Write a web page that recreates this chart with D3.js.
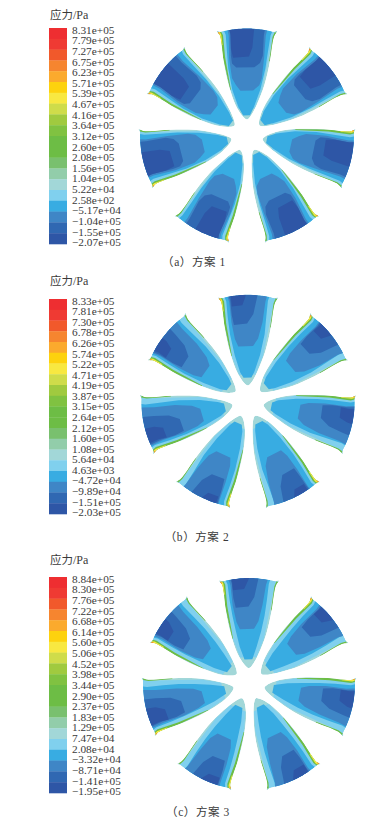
<!DOCTYPE html>
<html>
<head>
<meta charset="utf-8">
<script src="https://cdn.jsdelivr.net/npm/d3@7"></script>
<style>
  html, body { margin: 0; background: #fff; }
  svg { display: block; }
  text { font-family: 'Liberation Serif', 'Noto Sans CJK SC', serif; fill: #3a3a3a; }
</style>
</head>
<body>
<svg></svg>
<script>
let width = 382;
let height = 824;

// legend
let bandColors = ['#ee2e31', '#ef3a33', '#f1592b', '#f6852f', '#fbaa2d', '#fdd20e', '#f8e841', '#cfdc4a', '#a0ca3f',
    '#80c241', '#6dbd45', '#6dbd45', '#79c06e', '#92cdaa', '#a2d7d8', '#80d0ee', '#38ace2', '#3f86c6', '#3068b2', '#2e56a6'];
let labelsA = ['8.31e+05', '7.79e+05', '7.27e+05', '6.75e+05', '6.23e+05', '5.71e+05', '5.39e+05', '4.67e+05', '4.16e+05', '3.64e+05', '3.12e+05',
    '2.60e+05', '2.08e+05', '1.56e+05', '1.04e+05', '5.22e+04', '2.58e+02', '−5.17e+04', '−1.04e+05', '−1.55e+05', '−2.07e+05'];
let labelsB = ['8.33e+05', '7.81e+05', '7.30e+05', '6.78e+05', '6.26e+05', '5.74e+05', '5.22e+05', '4.71e+05', '4.19e+05', '3.87e+05', '3.15e+05',
    '2.64e+05', '2.12e+05', '1.60e+05', '1.08e+05', '5.64e+04', '4.63e+03', '−4.72e+04', '−9.89e+04', '−1.51e+05', '−2.03e+05'];
let labelsC = ['8.84e+05', '8.30e+05', '7.76e+05', '7.22e+05', '6.68e+05', '6.14e+05', '5.60e+05', '5.06e+05', '4.52e+05', '3.98e+05', '3.44e+05',
    '2.90e+05', '2.37e+05', '1.83e+05', '1.29e+05', '7.47e+04', '2.08e+04', '−3.32e+04', '−8.71e+04', '−1.41e+05', '−1.95e+05'];

// blade outline, polar: radius fraction and angle in degrees from the blade axis
let edgeRadius = [0.15, 0.155, 0.17, 0.2, 0.3, 0.5, 0.72, 0.9, 0.97, 1.015];
let edgeLeft = [0, -5, -10, -15, -20.5, -20, -17.6, -15.4, -15.2, -16.2];
let edgeRight = [0, 4, 8, 12.5, 17.5, 19, 17.2, 15.4, 15.4, 16.2];

// contour bands, rows of [radius fraction, left, right] where left/right run 0..1 across the blade
let skyEdge = [[0.15, 0, 1], [0.3, 0, 1], [0.5, 0.015, 0.985], [1, 0.025, 0.975]];

let mainA = [[0.165, 0.22, 0.78], [0.2, 0.08, 0.92], [0.3, 0.06, 0.93], [0.5, 0.06, 0.94], [0.7, 0.08, 0.93], [0.85, 0.1, 0.93], [1, 0.11, 0.93]];
let midA = [[0.405, 0.38, 0.55], [0.43, 0.28, 0.78], [0.5, 0.17, 0.9], [0.57, 0.11, 0.89], [0.8, 0.13, 0.86], [1, 0.17, 0.84]];
let darkA = [[0.62, 0.38, 0.55], [0.65, 0.22, 0.72], [0.7, 0.16, 0.82], [0.78, 0.17, 0.84], [1, 0.2, 0.8]];
let deepA = [[0.7, 0.3, 0.45], [0.75, 0.18, 0.58], [0.85, 0.18, 0.62], [1, 0.2, 0.62]];

let mainB = [[0.185, 0.3, 0.7], [0.24, 0.15, 0.85], [0.3, 0.12, 0.88], [0.5, 0.1, 0.9], [0.7, 0.09, 0.89], [0.85, 0.09, 0.87], [1, 0.1, 0.86]];
let midB = [[0.5, 0.35, 0.55], [0.53, 0.22, 0.68], [0.62, 0.18, 0.78], [0.8, 0.15, 0.82], [1, 0.15, 0.82]];
let darkB = [[0.7, 0.25, 0.38], [0.74, 0.19, 0.52], [0.85, 0.17, 0.64], [1, 0.17, 0.66]];
let deepB = [[0.85, 0.2, 0.3], [0.92, 0.18, 0.42], [1, 0.2, 0.46]];

let mainC = [[0.19, 0.3, 0.7], [0.25, 0.18, 0.82], [0.4, 0.16, 0.84], [0.55, 0.15, 0.85], [0.7, 0.12, 0.87], [0.85, 0.1, 0.87], [1, 0.1, 0.86]];
let midC = [[0.5, 0.35, 0.55], [0.53, 0.24, 0.68], [0.62, 0.19, 0.76], [0.8, 0.15, 0.8], [1, 0.15, 0.82]];
let darkC = [[0.7, 0.28, 0.42], [0.74, 0.2, 0.52], [0.85, 0.18, 0.64], [1, 0.18, 0.66]];
let deepC = [[0.83, 0.2, 0.3], [0.92, 0.18, 0.44], [1, 0.2, 0.5]];

// high stress strips along the edges, same for every blade
let stripLeftGreen = [[0.32, 0, 0], [0.5, 0, 0.025], [0.85, 0, 0.05], [1, 0, 0.06]];
let stripLeftYellow = [[0.8, 0, 0], [0.9, 0, 0.025], [1, 0, 0.035]];
let stripLeftOrange = [[0.93, 0, 0], [1, 0, 0.02]];
let stripRightGreen = [[0.5, 1, 1], [0.8, 0.98, 1], [1, 0.97, 1]];

// per blade shift of the contours: radius fraction and across
let shiftRadA = [0, 0, 0, 0, 0, 0, -0.03];
let shiftAcrossA = [0, 0.02, 0.01, 0.03, -0.02, 0, 0];
let shiftRadB = [0, 0, -0.03, 0.03, 0.03, -0.07, -0.03];
let shiftAcrossB = [0, 0.04, 0.02, 0.04, 0.04, -0.02, -0.02];
let shiftRadC = [0, 0, -0.03, 0.02, 0.03, -0.07, -0.03];
let shiftAcrossC = [0, 0.04, 0.02, 0.04, 0.04, -0.02, -0.02];

let schemes = [
    { caption: '（a）方案 1', labels: labelsA, cx: 247, cy: 135.5, radius: 107, top: 28, bottom: 244, titleY: 19, capX: 194, capY: 266, bands: [skyEdge, mainA, midA, darkA, deepA], shiftRad: shiftRadA, shiftAcross: shiftAcrossA },
    { caption: '（b）方案 2', labels: labelsB, cx: 248, cy: 401.5, radius: 106.7, top: 299, bottom: 514, titleY: 285, capX: 197, capY: 541, bands: [skyEdge, mainB, midB, darkB, deepB], shiftRad: shiftRadB, shiftAcross: shiftAcrossB },
    { caption: '（c）方案 3', labels: labelsC, cx: 249, cy: 684, radius: 106, top: 577, bottom: 793, titleY: 564, capX: 198, capY: 816, bands: [skyEdge, mainC, midC, darkC, deepC], shiftRad: shiftRadC, shiftAcross: shiftAcrossC }
];
let contourColors = [bandColors[15], bandColors[16], bandColors[17], bandColors[18], bandColors[19]];

let svg = d3.select('svg')
    .attr('width', width)
    .attr('height', height);

let thetaLeft = d3.scaleLinear().domain(edgeRadius).range(edgeLeft).clamp(true);
let thetaRight = d3.scaleLinear().domain(edgeRadius).range(edgeRight).clamp(true);

// fill in rows between the read ones so the bands follow the blade curve
function refine(rows) {
    let out = [];
    d3.pairs(rows).forEach(function (pair) {
        let f = d3.interpolate(pair[0], pair[1]);
        [0, 0.25, 0.5, 0.75].forEach(u => out.push(f(u)));
    });
    out.push(rows[rows.length - 1]);
    return out;
}

schemes.forEach(function (scheme, si) {
    let g = svg.append('g');

    // legend
    let cellScale = d3.scaleBand().domain(d3.range(bandColors.length)).range([scheme.top, scheme.bottom]);
    g.selectAll('rect.cell')
        .data(bandColors)
        .enter()
        .append('rect')
        .classed('cell', true)
        .attr('x', 49)
        .attr('y', (d, i) => cellScale(i))
        .attr('width', 18)
        .attr('height', cellScale.bandwidth() + 0.3)
        .attr('fill', d => d);

    let labelScale = d3.scalePoint().domain(scheme.labels).range([scheme.top + 1.5, scheme.bottom - 2]);
    let axis = g.append('g')
        .attr('transform', 'translate(69, 0)')
        .call(d3.axisRight(labelScale).tickSize(0).tickPadding(3));
    axis.select('.domain').remove();
    axis.selectAll('text')
        .style('font-family', "'Liberation Serif', serif")
        .style('font-size', '11.3px')
        .style('fill', '#3a3a3a');

    let title = g.append('text')
        .attr('x', 50)
        .attr('y', scheme.titleY)
        .attr('font-size', '11.5px');
    title.append('tspan').text('应力');
    title.append('tspan').attr('font-size', '12px').text('/Pa');

    g.append('text')
        .attr('x', scheme.capX)
        .attr('y', scheme.capY)
        .attr('text-anchor', 'middle')
        .attr('font-size', '11.5px')
        .attr('letter-spacing', '0.6px')
        .text(scheme.caption);

    // blades
    let rScale = d3.scaleLinear().domain([0, 1]).range([0, scheme.radius]);
    let bandLine = d3.line().x(d => d[0]).y(d => d[1]);
    let outlineLine = d3.line().x(d => d[0]).y(d => d[1]).curve(d3.curveCatmullRomClosed);

    d3.range(7).forEach(function (b) {
        let axisDeg = b * 360 / 7;
        let point = function (s, t) {
            let deg = axisDeg + thetaLeft(s) + (thetaRight(s) - thetaLeft(s)) * t;
            let p = d3.pointRadial(deg * Math.PI / 180, rScale(s));
            return [scheme.cx + p[0], scheme.cy + p[1]];
        };
        let rowsToPoints = function (rows, ds, dt) {
            let moved = refine(rows).map(function (r) {
                return [r[0] < 1 ? Math.min(0.99, r[0] + ds) : 1, Math.max(0, r[1] + dt), Math.min(1, r[2] + dt)];
            });
            let pts = moved.map(r => point(r[0], r[1]));
            let last = moved[moved.length - 1];
            d3.range(last[1], last[2], 0.04).forEach(function (t) {
                pts.push(point(last[0], t));
            });
            moved.slice().reverse().forEach(function (r) {
                pts.push(point(r[0], r[2]));
            });
            return pts;
        };

        // outline: both edges through the read stations and the rim between them
        let outline = edgeRadius.map(s => point(s, 0));
        d3.range(0.05, 1, 0.05).forEach(t => outline.push(point(1, t)));
        edgeRadius.slice(1).reverse().forEach(s => outline.push(point(s, 1)));

        let clipId = 'clip-' + si + '-' + b;
        g.append('clipPath')
            .attr('id', clipId)
            .append('path')
            .attr('d', outlineLine(outline));

        let blade = g.append('g').attr('clip-path', 'url(#' + clipId + ')');
        blade.append('path')
            .attr('d', outlineLine(outline))
            .attr('fill', bandColors[14]);

        scheme.bands.forEach(function (rows, k) {
            let ds = k < 2 ? 0 : scheme.shiftRad[b];
            let dt = k < 2 ? 0 : scheme.shiftAcross[b];
            blade.append('path')
                .attr('d', bandLine(rowsToPoints(rows, ds, dt)))
                .attr('fill', contourColors[k]);
        });

        [[stripLeftGreen, bandColors[10]], [stripLeftYellow, bandColors[6]], [stripLeftOrange, bandColors[3]], [stripRightGreen, bandColors[10]]]
            .forEach(function (strip) {
                blade.append('path')
                    .attr('d', bandLine(rowsToPoints(strip[0], 0, 0)))
                    .attr('fill', strip[1]);
            });
    });
});
</script>
</body>
</html>
